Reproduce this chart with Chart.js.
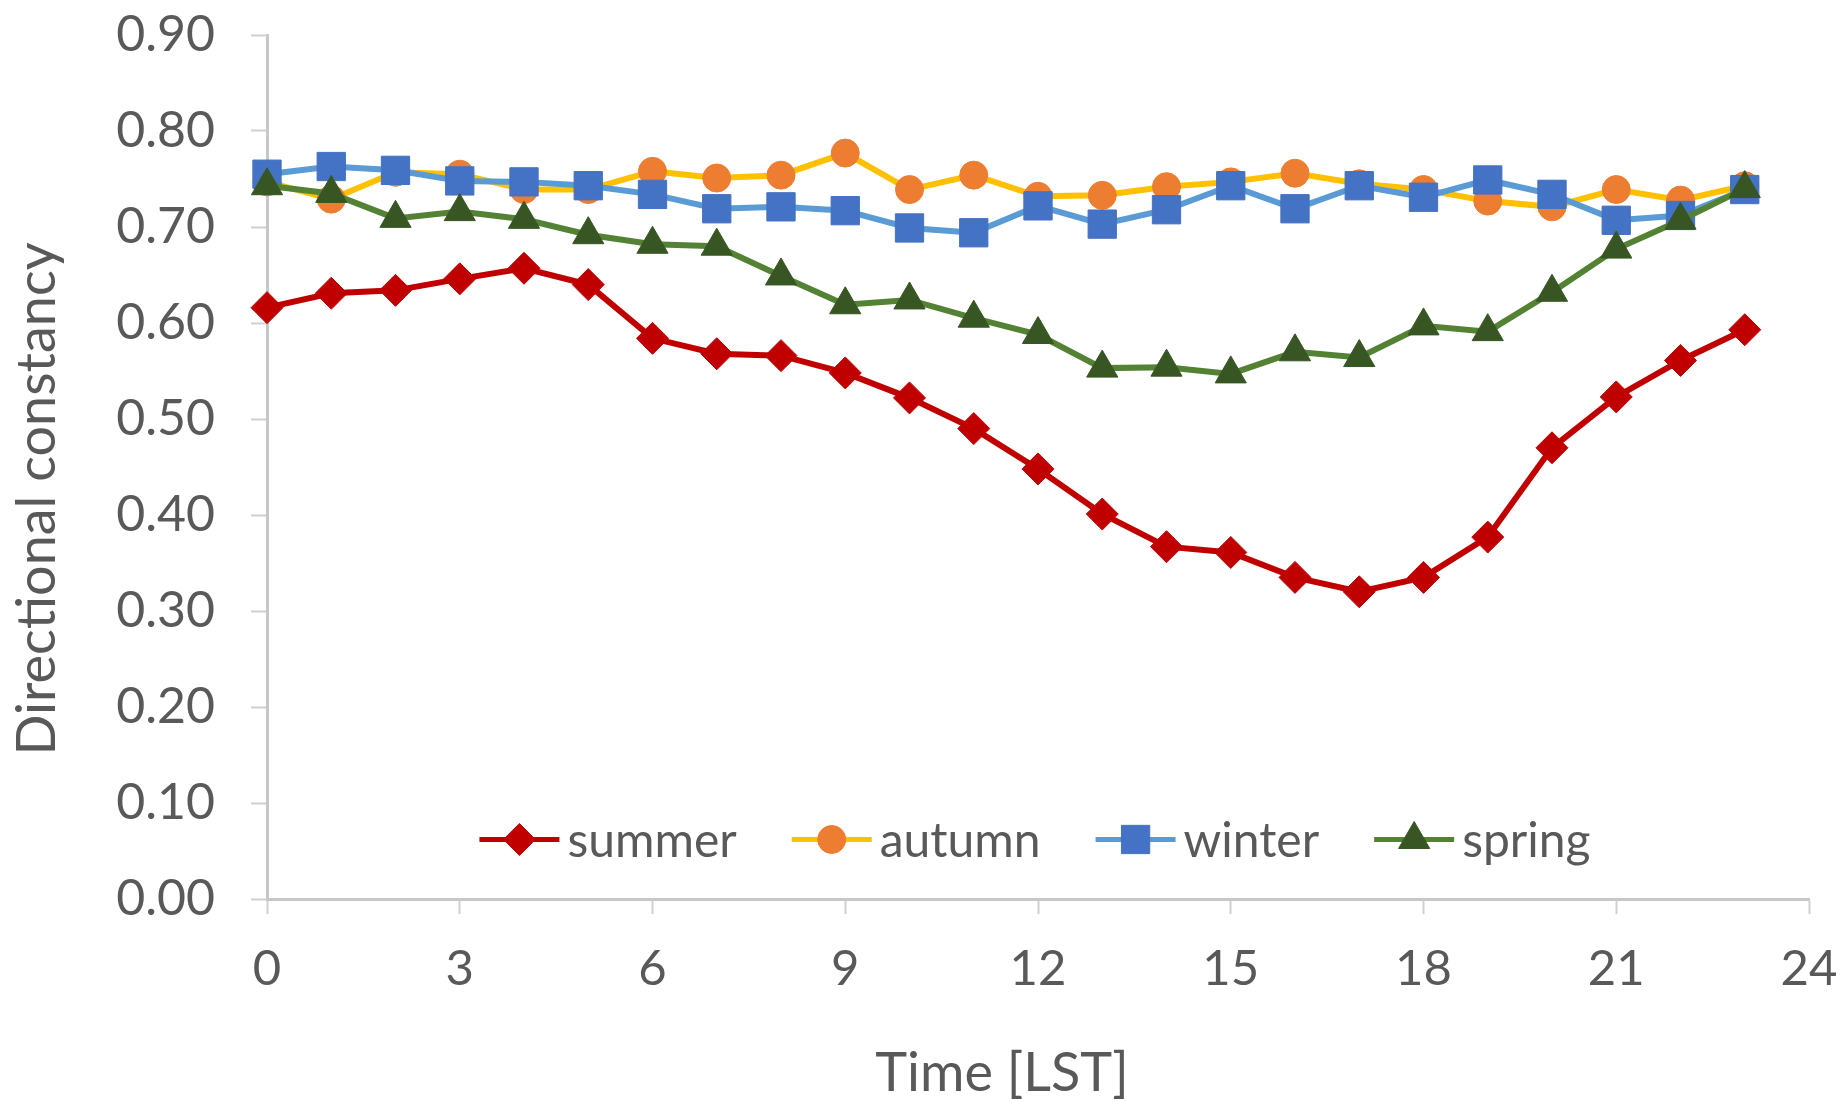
<html>
	<head>
		<meta charset="utf-8">
		<script src="https://cdn.jsdelivr.net/npm/chart.js@4/dist/chart.umd.min.js"></script>
		<style>
			body { margin: 0; background: #ffffff; }
		</style>
	</head>
	<body>
		<canvas id="myChart" width="1845" height="1102"></canvas>

		<script>
			// Data
			const hours = [0, 1, 2, 3, 4, 5, 6, 7, 8, 9, 10, 11, 12, 13, 14, 15, 16, 17, 18, 19, 20, 21, 22, 23];
			const summer = [0.616, 0.631, 0.634, 0.646, 0.657, 0.640, 0.584, 0.568, 0.566, 0.548, 0.522, 0.490, 0.448, 0.401, 0.367, 0.361, 0.335, 0.320, 0.335, 0.377, 0.470, 0.523, 0.561, 0.593];
			const autumn = [0.747, 0.729, 0.757, 0.755, 0.739, 0.739, 0.758, 0.751, 0.754, 0.777, 0.739, 0.754, 0.732, 0.733, 0.742, 0.747, 0.756, 0.745, 0.739, 0.727, 0.721, 0.739, 0.728, 0.743];
			const winter = [0.755, 0.763, 0.759, 0.748, 0.747, 0.743, 0.734, 0.719, 0.721, 0.717, 0.699, 0.694, 0.722, 0.703, 0.718, 0.743, 0.719, 0.743, 0.731, 0.749, 0.734, 0.707, 0.712, 0.739];
			const spring = [0.743, 0.735, 0.709, 0.716, 0.708, 0.692, 0.682, 0.680, 0.649, 0.619, 0.624, 0.605, 0.588, 0.553, 0.554, 0.547, 0.570, 0.564, 0.597, 0.591, 0.632, 0.677, 0.707, 0.740];
			const seriesNames = ['summer', 'autumn', 'winter', 'spring'];
			const xTicks = [0, 3, 6, 9, 12, 15, 18, 21, 24];
			const xTitle = 'Time [LST]';
			const yTitle = 'Directional constancy';

			const TEXT = '#595959';
			const FONT = 'Lato';

			const toPoints = (vals) => vals.map((v, i) => ({ x: hours[i], y: v }));

			// legend drawn inside the plot, near the bottom, like the Excel one
			const insideLegend = {
				id: 'insideLegend',
				afterDatasetsDraw(chart) {
					const ctx = chart.ctx;
					const area = chart.chartArea;
					const seg = 80, gapText = 8, gapItem = 55;
					ctx.save();
					ctx.font = '48px ' + FONT;
					ctx.textBaseline = 'middle';
					const items = chart.data.datasets.map(ds => ({ ds, w: seg + gapText + ctx.measureText(ds.label).width }));
					const total = items.reduce((s, it) => s + it.w, 0) + gapItem * (items.length - 1);
					let x = (area.left + area.right) / 2 - 3 - total / 2;
					const y = chart.scales.y.getPixelForValue(0.062);
					items.forEach(it => {
						const ds = it.ds;
						ctx.strokeStyle = ds.borderColor;
						ctx.lineWidth = ds.borderWidth - 1;
						ctx.beginPath();
						ctx.moveTo(x, y);
						ctx.lineTo(x + seg, y);
						ctx.stroke();
						ctx.fillStyle = ds.pointBackgroundColor;
						ctx.strokeStyle = ds.pointBorderColor;
						ctx.lineWidth = 1;
						Chart.helpers.drawPoint(ctx, { pointStyle: ds.pointStyle, radius: ds.pointRadius, rotation: 0, borderWidth: 1 }, x + seg / 2, y);
						ctx.fillStyle = TEXT;
						ctx.fillText(ds.label, x + seg + gapText, y + 2);
						x += it.w + gapItem;
					});
					ctx.restore();
				}
			};

			// axis titles, placed where Excel put them (not quite centred on the plot)
			const axisTitles = {
				id: 'axisTitles',
				afterDraw(chart) {
					const ctx = chart.ctx;
					const area = chart.chartArea;
					ctx.save();
					ctx.fillStyle = TEXT;
					ctx.font = '54px ' + FONT;
					ctx.textAlign = 'center';
					ctx.textBaseline = 'middle';
					ctx.fillText(xTitle, (area.left + area.right) / 2 - 36, 1074);
					ctx.translate(38, (area.top + area.bottom) / 2 + 32);
					ctx.rotate(-Math.PI / 2);
					ctx.fillText(yTitle, 0, 0);
					ctx.restore();
				}
			};

			const ctx = document.getElementById('myChart');
			const chart = new Chart(ctx, {
				type: 'line',
				data: {
					datasets: [
						{
							label: seriesNames[0], data: toPoints(summer), order: 3,
							borderColor: '#C00000', borderWidth: 6,
							pointStyle: 'rectRot', pointRadius: 16,
							pointBackgroundColor: '#C00000', pointBorderColor: '#C00000', pointBorderWidth: 1
						},
						{
							label: seriesNames[1], data: toPoints(autumn), order: 2,
							borderColor: '#FFC000', borderWidth: 6,
							pointStyle: 'circle', pointRadius: 14,
							pointBackgroundColor: '#ED7D31', pointBorderColor: '#ED7D31', pointBorderWidth: 1
						},
						{
							label: seriesNames[2], data: toPoints(winter), order: 1,
							borderColor: '#5B9BD5', borderWidth: 6,
							pointStyle: 'rect', pointRadius: 20,
							pointBackgroundColor: '#4472C4', pointBorderColor: '#4472C4', pointBorderWidth: 1
						},
						{
							label: seriesNames[3], data: toPoints(spring), order: 0,
							borderColor: '#548235', borderWidth: 6,
							pointStyle: 'triangle', pointRadius: 18,
							pointBackgroundColor: '#375623', pointBorderColor: '#375623', pointBorderWidth: 1
						}
					]
				},
				options: {
					responsive: false,
					animation: false,
					devicePixelRatio: 1,
					clip: false,
					layout: { padding: { top: 35, right: 36, left: 0, bottom: 0 } },
					plugins: {
						legend: { display: false },
						tooltip: { enabled: false }
					},
					scales: {
						x: {
							type: 'linear',
							min: 0, max: 24,
							afterBuildTicks: (scale) => { scale.ticks = xTicks.map(v => ({ value: v })); },
							afterFit: (scale) => {
								scale.height = 203;
								scale.paddingLeft = 0;
								scale.paddingRight = 0;
							},
							grid: { drawOnChartArea: false, drawTicks: true, tickLength: 15, tickColor: '#d0d0d0', tickWidth: 2 },
							border: { display: true, color: '#c8c8c8', width: 3 },
							ticks: { color: TEXT, font: { family: FONT, size: 49 }, padding: 26, maxRotation: 0 },
							title: { display: false }
						},
						y: {
							min: 0, max: 0.9,
							ticks: {
								stepSize: 0.1, color: TEXT, font: { family: FONT, size: 50 }, padding: 36,
								callback: (v) => v.toFixed(2)
							},
							afterFit: (scale) => {
								scale.width = 267;
								scale.paddingTop = 0;
								scale.paddingBottom = 0;
							},
							grid: { drawOnChartArea: false, drawTicks: true, tickLength: 16, tickColor: '#d0d0d0', tickWidth: 2 },
							border: { display: true, color: '#c8c8c8', width: 3 },
							title: { display: false }
						}
					}
				},
				plugins: [insideLegend, axisTitles]
			});
		</script>
	</body>
</html>
